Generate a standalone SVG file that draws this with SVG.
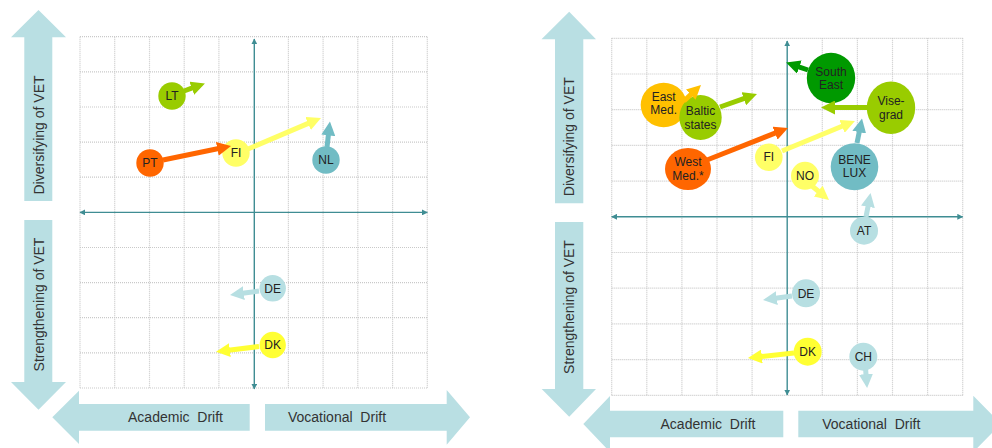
<svg xmlns="http://www.w3.org/2000/svg" width="992" height="448" viewBox="0 0 992 448">
<style>
.grid{stroke:#c9c9c9;stroke-width:1.2;stroke-dasharray:1 1;fill:none}
.axis{stroke:#3f8d93;stroke-width:1.4;fill:none}
.big{fill:#b9dfe3}
.lbl{font-family:"Liberation Sans",Arial,sans-serif;font-size:14px;fill:#333;text-anchor:middle}
.nt{font-family:"Liberation Sans",Arial,sans-serif;font-size:12px;fill:#222;text-anchor:middle}
.c{stroke-width:5;fill:none}
</style>
<defs>
<marker id="axh" viewBox="0 0 10 10" refX="9" refY="5" markerWidth="6" markerHeight="6" markerUnits="userSpaceOnUse" orient="auto-start-reverse"><path d="M0,0L10,5L0,10z" fill="#3f8d93"/></marker>
<marker id="mOr" viewBox="0 0 10 10" refX="1" refY="5" markerWidth="2.8" markerHeight="2.8" orient="auto"><path d="M0,0L10,5L0,10z" fill="#ff6600"/></marker>
<marker id="mYe" viewBox="0 0 10 10" refX="1" refY="5" markerWidth="2.8" markerHeight="2.8" orient="auto"><path d="M0,0L10,5L0,10z" fill="#ffff66"/></marker>
<marker id="mBy" viewBox="0 0 10 10" refX="1" refY="5" markerWidth="2.8" markerHeight="2.8" orient="auto"><path d="M0,0L10,5L0,10z" fill="#ffff33"/></marker>
<marker id="mGr" viewBox="0 0 10 10" refX="1" refY="5" markerWidth="2.8" markerHeight="2.8" orient="auto"><path d="M0,0L10,5L0,10z" fill="#99cc00"/></marker>
<marker id="mDg" viewBox="0 0 10 10" refX="1" refY="5" markerWidth="2.8" markerHeight="2.8" orient="auto"><path d="M0,0L10,5L0,10z" fill="#009900"/></marker>
<marker id="mTe" viewBox="0 0 10 10" refX="1" refY="5" markerWidth="2.8" markerHeight="2.8" orient="auto"><path d="M0,0L10,5L0,10z" fill="#71bcc4"/></marker>
<marker id="mLb" viewBox="0 0 10 10" refX="1" refY="5" markerWidth="2.8" markerHeight="2.8" orient="auto"><path d="M0,0L10,5L0,10z" fill="#b7dfe2"/></marker>
<marker id="mAm" viewBox="0 0 10 10" refX="1" refY="5" markerWidth="2.8" markerHeight="2.8" orient="auto"><path d="M0,0L10,5L0,10z" fill="#ffc000"/></marker>
</defs>
<rect width="992" height="448" fill="#fff"/>

<!-- LEFT CHART -->
<g id="left-grid" class="grid">
<path d="M80,36.7V388M114.7,36.7V388M149.5,36.7V388M184.2,36.7V388M218.9,36.7V388M288.4,36.7V388M323.1,36.7V388M357.8,36.7V388M392.6,36.7V388M427.3,36.7V388"/>
<path d="M80,36.7H427.3M80,71.8H427.3M80,107H427.3M80,142.1H427.3M80,177.2H427.3M80,247.5H427.3M80,282.6H427.3M80,317.7H427.3M80,352.9H427.3M80,388H427.3"/>
</g>
<g id="left-axes">
<line class="axis" x1="80" y1="212.4" x2="427.3" y2="212.4" marker-start="url(#axh)" marker-end="url(#axh)"/>
<line class="axis" x1="254.3" y1="39" x2="254.3" y2="389" marker-start="url(#axh)" marker-end="url(#axh)"/>
</g>
<g id="left-big-arrows">
<polygon class="big" points="38.5,10 66,37.3 52.3,37.3 52.3,201 24.3,201 24.3,37.3 11,37.3"/>
<polygon class="big" points="24.3,220 52.3,220 52.3,382 66,382 38.5,409.7 11,382 24.3,382"/>
<polygon class="big" points="52.3,417.3 79,390.7 79,404 249.7,404 249.7,430.7 79,430.7 79,444"/>
<polygon class="big" points="265,404 446.7,404 446.7,390 470,417.3 446.7,444.7 446.7,430.7 265,430.7"/>
<text class="lbl" transform="translate(44.3,135) rotate(-90)">Diversifying of VET</text>
<text class="lbl" transform="translate(44.3,304.5) rotate(-90)">Strengthening of VET</text>
<text class="lbl" x="175.5" y="422.3" xml:space="preserve">Academic  Drift</text>
<text class="lbl" x="337" y="422.3" xml:space="preserve">Vocational  Drift</text>
</g>

<g id="L-LT"><circle cx="172" cy="96" r="13.7" fill="#99cc00"/><text class="nt" x="172" y="100.2">LT</text></g>
<g id="L-PT"><circle cx="150" cy="163" r="13.7" fill="#ff6600"/><text class="nt" x="150" y="167.2">PT</text></g>
<g id="L-FI"><circle cx="236" cy="153" r="13.7" fill="#ffff66"/><text class="nt" x="236" y="157.2">FI</text></g>
<g id="L-NL"><circle cx="326" cy="160" r="13.7" fill="#71bcc4"/><text class="nt" x="326" y="164.2">NL</text></g>
<g id="L-DE"><circle cx="272.7" cy="288.3" r="13.2" fill="#b7dfe2"/><text class="nt" x="272.7" y="292.5">DE</text></g>
<g id="L-DK"><circle cx="272.7" cy="345" r="13.2" fill="#ffff33"/><text class="nt" x="272.7" y="349.2">DK</text></g>

<!-- RIGHT CHART -->
<g id="right-grid" class="grid">
<path d="M611.7,38.3V395.3M646.8,38.3V395.3M681.9,38.3V395.3M717,38.3V395.3M752.1,38.3V395.3M822.3,38.3V395.3M857.4,38.3V395.3M892.5,38.3V395.3M927.6,38.3V395.3M962.7,38.3V395.3"/>
<path d="M611.7,38.3H962.7M611.7,74H962.7M611.7,109.7H962.7M611.7,145.4H962.7M611.7,181.1H962.7M611.7,252.5H962.7M611.7,288.2H962.7M611.7,323.9H962.7M611.7,359.6H962.7M611.7,395.3H962.7"/>
</g>
<g id="right-axes">
<line class="axis" x1="611.7" y1="216.8" x2="962.7" y2="216.8" marker-start="url(#axh)" marker-end="url(#axh)"/>
<line class="axis" x1="787.2" y1="41" x2="787.2" y2="395" marker-start="url(#axh)" marker-end="url(#axh)"/>
</g>
<g id="right-big-arrows">
<polygon class="big" points="569.2,11.7 596,39.3 583.3,39.3 583.3,203.3 555,203.3 555,39.3 541.5,39.3"/>
<polygon class="big" points="555,222 583.3,222 583.3,389 596,389 569.2,416.7 541.7,389 555,389"/>
<polygon class="big" points="583.3,424 610,396 610,410.7 783.3,410.7 783.3,437.3 610,437.3 610,452"/>
<polygon class="big" points="798.3,410.7 973.3,410.7 973.3,395.7 1001,424 973.3,452 973.3,437.3 798.3,437.3"/>
<text class="lbl" transform="translate(574.3,136.7) rotate(-90)">Diversifying of VET</text>
<text class="lbl" transform="translate(574.3,307) rotate(-90)">Strengthening of VET</text>
<text class="lbl" x="708" y="429" xml:space="preserve">Academic  Drift</text>
<text class="lbl" x="871.3" y="429" xml:space="preserve">Vocational  Drift</text>
</g>

<g id="R-SouthEast"><ellipse cx="831" cy="78" rx="24.2" ry="25.3" fill="#009900"/><text class="nt" x="831" y="75.5">South</text><text class="nt" x="831" y="89">East</text></g>
<g id="R-Visegrad"><ellipse cx="891" cy="107.8" rx="24.2" ry="26.2" fill="#99cc00"/><text class="nt" x="891" y="105">Vise-</text><text class="nt" x="891" y="118.5">grad</text></g>
<g id="R-EastMed"><ellipse cx="663.7" cy="105" rx="23" ry="22.3" fill="#ffc000"/><text class="nt" x="663.7" y="100.5">East</text><text class="nt" x="663.7" y="114">Med.</text></g>
<g id="R-Baltic"><ellipse cx="700.5" cy="117.5" rx="21.2" ry="22.5" fill="#99cc00"/><text class="nt" x="700.5" y="115">Baltic</text><text class="nt" x="700.5" y="128.5">states</text></g>
<g id="R-WestMed"><ellipse cx="688" cy="169" rx="23" ry="21" fill="#ff6600"/><text class="nt" x="688" y="166">West</text><text class="nt" x="688" y="179.5">Med.*</text></g>
<g id="R-FI"><circle cx="768.8" cy="157.2" r="13.8" fill="#ffff66"/><text class="nt" x="768.8" y="161.4">FI</text></g>
<g id="R-NO"><circle cx="805" cy="175.8" r="14" fill="#ffff66"/><text class="nt" x="805" y="180">NO</text></g>
<g id="R-BENELUX"><ellipse cx="854.5" cy="166.7" rx="23.8" ry="23.5" fill="#71bcc4"/><text class="nt" x="854.5" y="163.5">BENE</text><text class="nt" x="854.5" y="177">LUX</text></g>
<g id="R-AT"><circle cx="864" cy="230.7" r="14" fill="#b7dfe2"/><text class="nt" x="864" y="234.9">AT</text></g>
<g id="R-DE"><circle cx="806" cy="293.3" r="14" fill="#b7dfe2"/><text class="nt" x="806" y="297.5">DE</text></g>
<g id="R-DK"><circle cx="807.7" cy="351.7" r="14" fill="#ffff33"/><text class="nt" x="807.7" y="355.9">DK</text></g>
<g id="R-CH"><circle cx="863.3" cy="356.7" r="14" fill="#b7dfe2"/><text class="nt" x="863.3" y="360.9">CH</text></g>

<g id="connectors" class="c">
<line x1="184" y1="91" x2="193.1" y2="87.7" stroke="#99cc00" marker-end="url(#mGr)"/>
<line x1="163" y1="160" x2="218.7" y2="148.5" stroke="#ff6600" marker-end="url(#mOr)"/>
<line x1="248" y1="149" x2="309.4" y2="122.9" stroke="#ffff66" marker-end="url(#mYe)"/>
<line x1="327" y1="147" x2="328.5" y2="134" stroke="#71bcc4" marker-end="url(#mTe)"/>
<line x1="259" y1="291" x2="242.5" y2="293.3" stroke="#b7dfe2" marker-end="url(#mLb)"/>
<line x1="259" y1="346.5" x2="228.5" y2="350.3" stroke="#ffff33" marker-end="url(#mBy)"/>

<line x1="808" y1="70" x2="798" y2="66.6" stroke="#009900" marker-end="url(#mDg)"/>
<line x1="867" y1="107.5" x2="833.6" y2="107.5" stroke="#99cc00" marker-end="url(#mGr)"/>
<line x1="684" y1="101" x2="691.8" y2="93.7" stroke="#ffc000" marker-end="url(#mAm)"/>
<line x1="720" y1="107" x2="745.1" y2="98.2" stroke="#99cc00" marker-end="url(#mGr)"/>
<line x1="707" y1="160" x2="776.3" y2="132.6" stroke="#ff6600" marker-end="url(#mOr)"/>
<line x1="782" y1="151" x2="843.3" y2="125.8" stroke="#ffff66" marker-end="url(#mYe)"/>
<line x1="812" y1="186" x2="819.3" y2="192" stroke="#ffff66" marker-end="url(#mYe)"/>
<line x1="857" y1="143" x2="859.5" y2="130.8" stroke="#71bcc4" marker-end="url(#mTe)"/>
<line x1="866" y1="217" x2="868.2" y2="205.4" stroke="#b7dfe2" marker-end="url(#mLb)"/>
<line x1="792" y1="296" x2="775.5" y2="298.3" stroke="#b7dfe2" marker-end="url(#mLb)"/>
<line x1="794" y1="353" x2="760.5" y2="356.6" stroke="#ffff33" marker-end="url(#mBy)"/>
<line x1="865.5" y1="368" x2="866.1" y2="375.5" stroke="#b7dfe2" marker-end="url(#mLb)"/>
</g>
</svg>
